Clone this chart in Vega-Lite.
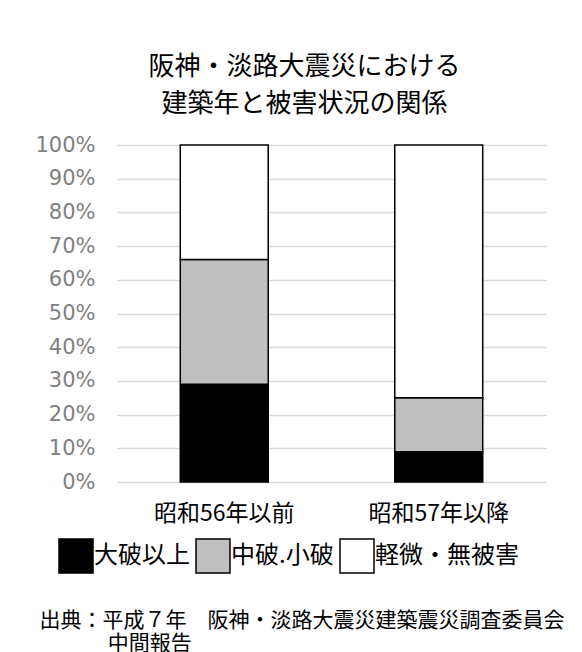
{
  "$schema": "https://vega.github.io/schema/vega-lite/v6.json",
  "width": 429,
  "height": 337,
  "autosize": {"type": "none"},
  "padding": {"left": 117, "top": 145, "right": 36, "bottom": 170},
  "background": "white",
  "title": {
    "text": ["阪神・淡路大震災における", "建築年と被害状況の関係"],
    "font": "Noto Sans CJK JP",
    "fontSize": 26,
    "fontWeight": "normal",
    "color": "#000000",
    "lineHeight": 37,
    "anchor": "middle",
    "frame": "group",
    "dx": -27,
    "offset": 17
  },
  "data": {
    "values": [
      {"period": "昭和56年以前", "damage": "大破以上", "k": 1, "share": 0.29},
      {"period": "昭和56年以前", "damage": "中破.小破", "k": 2, "share": 0.37},
      {"period": "昭和56年以前", "damage": "軽微・無被害", "k": 3, "share": 0.34},
      {"period": "昭和57年以降", "damage": "大破以上", "k": 1, "share": 0.09},
      {"period": "昭和57年以降", "damage": "中破.小破", "k": 2, "share": 0.16},
      {"period": "昭和57年以降", "damage": "軽微・無被害", "k": 3, "share": 0.75}
    ]
  },
  "mark": {"type": "bar", "stroke": "#000000", "strokeWidth": 1.5},
  "encoding": {
    "x": {
      "field": "period",
      "type": "nominal",
      "sort": ["昭和56年以前", "昭和57年以降"],
      "scale": {"paddingInner": 0.59, "paddingOuter": 0.295},
      "axis": {
        "labelAngle": 0,
        "labelFont": "Noto Sans CJK JP",
        "labelFontSize": 23,
        "labelColor": "#000000",
        "labelPadding": 20,
        "ticks": false,
        "tickSize": 0,
        "domain": false,
        "title": ["出典：平成７年　阪神・淡路大震災建築震災調査委員会", "\u200b　　　\u2005中間報告"],
        "titleFont": "Noto Sans CJK JP",
        "titleFontSize": 21,
        "titleFontWeight": "normal",
        "titleColor": "#000000",
        "titleLineHeight": 23,
        "titleX": -78,
        "titleY": 127,
        "titleAlign": "left",
        "titleAnchor": "start",
        "titleBaseline": "top"
      }
    },
    "y": {
      "field": "share",
      "type": "quantitative",
      "stack": "zero",
      "scale": {"domain": [0, 1]},
      "axis": {
        "values": [0, 0.1, 0.2, 0.3, 0.4, 0.5, 0.6, 0.7, 0.8, 0.9, 1],
        "format": ".0%",
        "title": null,
        "labelFont": "DejaVu Sans",
        "labelFontSize": 21,
        "labelColor": "#808080",
        "labelPadding": 22,
        "ticks": false,
        "tickSize": 0,
        "domain": false,
        "gridColor": "#d9d9d9",
        "gridWidth": 1.5
      }
    },
    "color": {
      "field": "damage",
      "type": "nominal",
      "sort": ["大破以上", "中破.小破", "軽微・無被害"],
      "scale": {
        "domain": ["大破以上", "中破.小破", "軽微・無被害"],
        "range": ["#000000", "#bfbfbf", "#ffffff"]
      },
      "legend": {
        "orient": "none",
        "legendX": -59,
        "legendY": 393,
        "direction": "horizontal",
        "title": null,
        "symbolType": "square",
        "symbolSize": 1156,
        "symbolStrokeColor": "#000000",
        "symbolStrokeWidth": 1.5,
        "labelFont": "Noto Sans CJK JP",
        "labelFontSize": 24,
        "labelColor": "#000000",
        "labelOffset": 0,
        "columnPadding": 3,
        "padding": 0
      }
    },
    "order": {"field": "k", "type": "quantitative", "sort": "ascending"}
  },
  "config": {"view": {"stroke": null}}
}
